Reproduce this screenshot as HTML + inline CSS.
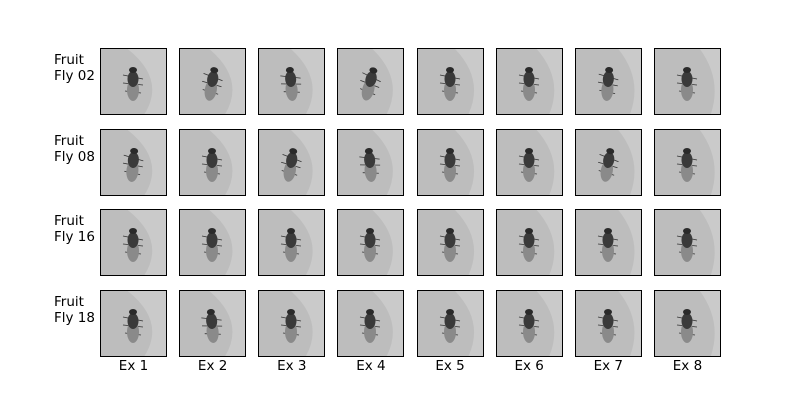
<!DOCTYPE html>
<html><head><meta charset="utf-8"><style>
body{margin:0;background:#fff;}
#c{position:relative;width:800px;height:400px;background:#fff;font-family:"DejaVu Sans","Liberation Sans",sans-serif;font-size:13.5px;color:#000;overflow:hidden}
.cell{position:absolute;width:67px;height:67px;box-sizing:border-box;border:1px solid #000;background:#bdbdbd;overflow:hidden}
.rl{position:absolute;left:54px;line-height:16px}
.cl{position:absolute;width:67px;text-align:center}
</style></head><body>
<div id="c"></div>
<script>
const rowLabels=["Fruit Fly 02","Fruit Fly 08","Fruit Fly 16","Fruit Fly 18"];
const colLabels=["Ex 1","Ex 2","Ex 3","Ex 4","Ex 5","Ex 6","Ex 7","Ex 8"];
const angles=[[0,10,-5,15,0,0,5,0],[5,0,10,-5,0,0,10,0],[0,0,0,0,0,0,0,0],[0,-5,0,0,0,0,0,0]];
const c=document.getElementById('c');
const x0=100,y0=48,dx=79.14,dy=80.67;
rowLabels.forEach((r,i)=>{
  const l=document.createElement('div');l.className='rl';
  
  
  l.style.top=(y0+i*dy+4)+'px';
  l.innerHTML=r.replace('Fly','<br>Fly');c.appendChild(l);
  colLabels.forEach((cl,j)=>{
    const d=document.createElement('div');d.className='cell';
    
    
    d.style.left=(x0+j*dx)+'px';d.style.top=(y0+i*dy)+'px';
    const a=angles[i][j];
    d.innerHTML=`<svg width="65" height="65"><path d="M${20+j*3} -5 Q${70} 30 ${40+j*2} 70 L70 70 L70 -5Z" fill="#cacaca"/><g transform="rotate(${a} 32 34)" stroke="#333" stroke-width="0.8"><line x1="22" y1="26" x2="42" y2="30"/><line x1="22" y1="34" x2="42" y2="36"/><line x1="24" y1="42" x2="40" y2="44"/><ellipse cx="32" cy="41" rx="6" ry="11" fill="#8a8a8a" stroke="none"/><ellipse cx="32" cy="30" rx="5.5" ry="8" fill="#3a3a3a" stroke="none"/><ellipse cx="32" cy="21" rx="4" ry="3" fill="#2a2a2a" stroke="none"/></g></svg>`;
    c.appendChild(d);
  });
});
colLabels.forEach((cl,j)=>{
  const l=document.createElement('div');l.className='cl';
  
  
  l.style.left=(x0+j*dx)+'px';l.style.top='358px';
  l.textContent=cl;c.appendChild(l);
});
</script>
</body></html>
